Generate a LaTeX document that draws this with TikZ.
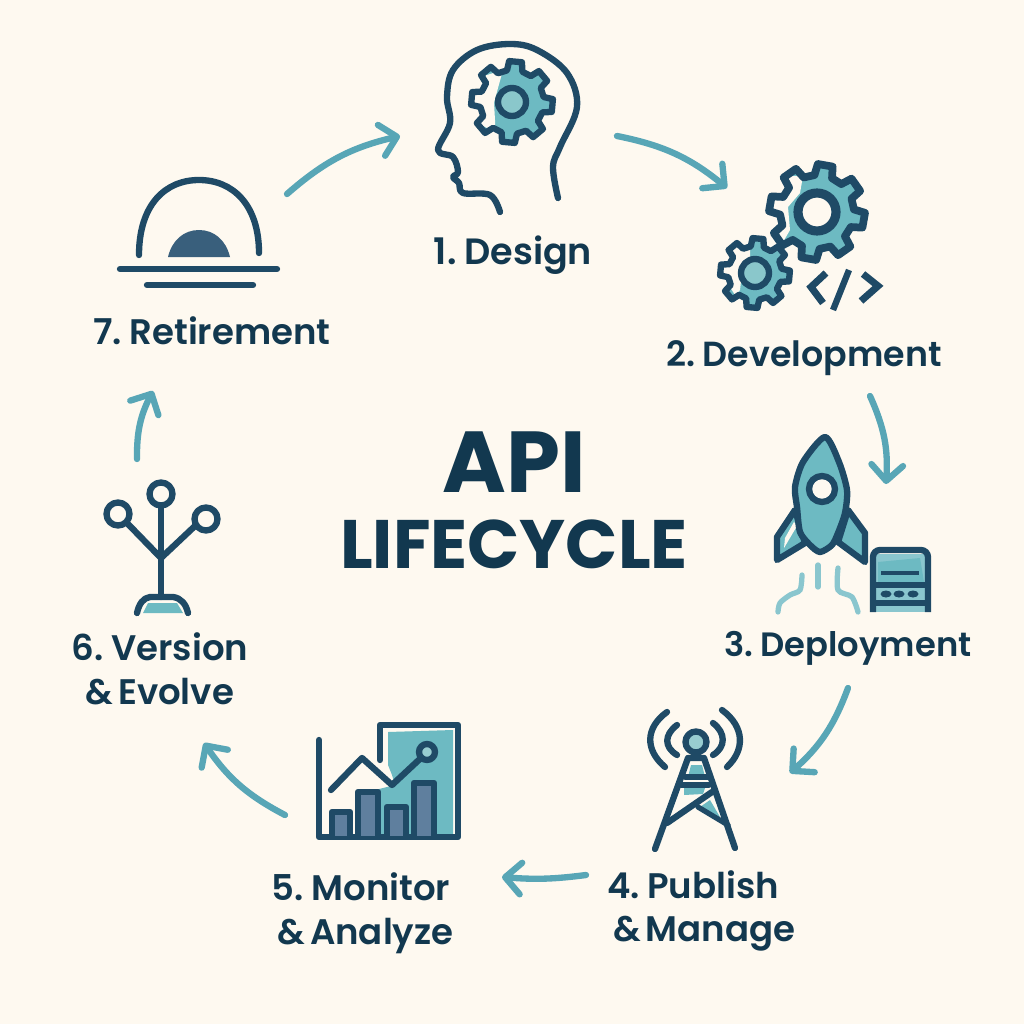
\documentclass[tikz,border=0pt]{standalone}
\usepackage{fontspec}
\setmainfont{Poppins SemiBold}[BoldFont={Poppins Bold}, WordSpace=0.55]
\usetikzlibrary{arrows.meta}
\definecolor{paper}{HTML}{FEF9F0}
\definecolor{ink}{HTML}{1F4A66}
\definecolor{textink}{HTML}{12384F}
\definecolor{teal}{HTML}{6DBAC2}
\definecolor{flame}{HTML}{8AC6CE}
\definecolor{bar}{HTML}{5F7F9E}
\definecolor{flow}{HTML}{58A6B6}
\tikzset{
    iconline/.style={draw=ink, line width=1.8pt, line cap=round, line join=round},
    flowarrow/.style={draw=flow, line width=1.8pt, line cap=round, -{Straight Barb[length=4.5pt,width=9pt,round]}, bend left=#1},
    flowarrow/.default=14,
    steplabel/.style={text=textink, font=\fontsize{10.1}{12.4}\selectfont, align=center, inner sep=0pt}
}
% one gear outline, for use inside a path
\newcommand{\gearpath}[3]{(#3-14:#2) \foreach \a in {0,45,...,315} {-- (#3+\a-14:#2) -- (#3+\a-9:#1) -- (#3+\a+9:#1) -- (#3+\a+14:#2)} -- cycle}
\begin{document}
\begin{tikzpicture}[x=0.01cm, y=-0.01cm]
    \useasboundingbox[fill=paper] (0,0) rectangle (1024,1024);

    % title and labels
    \node[text=textink, font=\fontsize{24.6}{24.6}\selectfont\bfseries, inner sep=0pt] (title) at (514,462) {API};
    \node[text=textink, font=\fontsize{19.5}{19.5}\selectfont\bfseries, inner sep=0pt] (subtitle) at (514,544) {LIFECYCLE};
    \node[steplabel, font=\fontsize{10.4}{12.4}\selectfont] (design) at (513,255) {1. Design};
    \node[steplabel, font=\fontsize{9.9}{12.4}\selectfont] (development) at (804,358) {2. Development};
    \node[steplabel, font=\fontsize{9.6}{12.4}\selectfont] (deployment) at (848,648) {3. Deployment};
    \node[steplabel] (publish) at (693,911) {4. Publish\\\ \ \ \ \ \& Manage};
    \node[steplabel] (monitor) at (361,913) {5. Monitor\\\ \ \& Analyze};
    \node[steplabel] (version) at (160,669) {6. Version\\\& Evolve};
    \node[steplabel] (retirement) at (212,331) {7. Retirement};

    % 1 head with gear
    \draw[iconline] plot[smooth, tension=.6] coordinates {(558,198) (553,167) (560,147) (577,107) (567,73) (537,50) (510,44) (477,50) (453,70) (447,97) (450,123) (438,150) (453,157) (458,172) (453,177) (459,183) (463,193) (490,195) (500,212)};
    \fill[teal, shift={(512,102)}] \gearpath{41}{32}{5};
    \fill[paper] (503,70) -- (498,88) -- (494,103) -- (495,120) -- (495,132) -- (471,120) -- (471,80) -- cycle;
    \draw[iconline, shift={(512,102)}] \gearpath{41}{32}{5};
    \draw[iconline, fill=teal!80!paper] (512,102) circle (14);

    % 2 two gears and code mark
    \fill[teal, shift={(817,212)}] \gearpath{48}{37}{10};
    \fill[paper] (803,176) -- (800,193) -- (788,207) -- (790,230) -- (783,242) -- (768,210) -- (775,176) -- cycle;
    \draw[iconline, line width=2.2pt, shift={(817,212)}] \gearpath{48}{37}{10};
    \draw[iconline, line width=2.6pt, fill=paper] (817,212) circle (19);
    \fill[teal, shift={(755,273)}] \gearpath{35}{27}{5};
    \fill[paper] (750,243) -- (750,257) -- (742,273) -- (740,290) -- (735,295) -- (721,273) -- (730,248) -- cycle;
    \draw[iconline, shift={(755,273)}] \gearpath{35}{27}{5};
    \draw[iconline, fill=teal!80!paper] (755,273) circle (14);
    \draw[iconline, line cap=butt, line join=miter, line width=2pt] (826,273) -- (811,287) -- (823,303);
    \draw[iconline, line cap=butt, line width=1.8pt] (849,270) -- (833,310);
    \draw[iconline, line cap=butt, line join=miter, line width=2pt] (863,274) -- (878,286) -- (861,301);

    % 3 rocket and server box
    \draw[iconline, fill=teal] (795,510) -- (777,537) -- (777,560) -- (805,543) -- cycle;
    \draw[iconline, fill=teal] (848,510) -- (865,533) -- (865,562) -- (838,542) -- cycle;
    \fill[paper] (785,538) -- (794,522) -- (797,526) -- (784,548) -- cycle;
    \draw[iconline, fill=teal] plot[smooth cycle, tension=.45] coordinates {(825,437) (839,462) (847,490) (845,513) (838,533) (832,545) (820,552) (810,545) (800,532) (797,507) (795,487) (803,462)};
    \draw[iconline, fill=paper] (822,489) circle (13);
    \draw[flame, line width=1.5pt, line cap=round] (818,565) -- (818,587);
    \draw[flame, line width=1.5pt, line cap=round] plot[smooth, tension=.5] coordinates {(802,575) (800,590) (790,595) (780,603) (778,612)};
    \draw[flame, line width=1.5pt, line cap=round] plot[smooth, tension=.5] coordinates {(838,568) (838,590) (852,597) (858,612)};
    \fill[flame] (876,554) rectangle (925,612);
    \fill[teal] (878,562) -- (920,558) -- (924,582) -- (878,582) -- cycle;
    \draw[ink, line width=1pt] (881,573) -- (919,573);
    \draw[iconline, line cap=butt, rounded corners=2pt] (873,612) -- (873,550) -- (928,550) -- (928,612);
    \draw[ink, line width=1.5pt] (873,585) -- (928,585);
    \draw[ink, line width=1.5pt] (873,603) -- (928,603);
    \foreach \bx in {886,899,913} {\fill[ink] (\bx,594) ellipse (5.5 and 3.5);}

    % 4 radio tower
    \fill[teal] (691,765) -- (702,765) -- (705,777) -- (688,777) -- cycle;
    \fill[teal] (684,785) -- (706,785) -- (703,794) -- (684,795) -- cycle;
    \fill[teal] (672,818) -- (707,797) -- (697,806) -- cycle;
    \fill[teal] (710,800) -- (720,817) -- (700,807) -- cycle;
    \draw[iconline] (655,849) -- (688,758) -- (704,758) -- (735,848);
    \draw[iconline, line width=1.5pt] (685,777) -- (708,777);
    \draw[iconline, line width=1.5pt] (681,785) -- (709,785);
    \draw[iconline] (667,823) -- (712,792);
    \draw[iconline, line width=1.5pt] (698,807) -- (728,825);
    \draw[iconline, fill=teal!70!paper] (696,742) circle (10.5);
    \draw[iconline] (677,725) .. controls (664,735) and (664,747) .. (677,755);
    \draw[iconline] (667,712) .. controls (645,728) and (645,750) .. (665,767);
    \draw[iconline] (713,723) .. controls (726,733) and (726,747) .. (713,755);
    \draw[iconline] (722,710) .. controls (745,727) and (745,750) .. (727,767);

    % 5 chart
    \fill[teal] (388,732) -- (453,730) -- (453,834) -- (375,834) -- (375,790) -- (395,785) -- (392,775) -- (388,765) -- cycle;
    \draw[iconline] (319,740) -- (319,837) -- (458,837) -- (458,725) -- (380,725) -- (380,760);
    \foreach \bl/\bt/\br in {332/812/350, 358/792/378, 387/807/406, 414/783/434} {
        \draw[iconline, fill=bar] (\bl,836) -- (\bl,\bt) -- (\br,\bt) -- (\br,836);
    }
    \draw[iconline] (331,790) -- (362,758) -- (392,785) -- (422,757);
    \draw[iconline, fill=teal!70!paper] (427,752) circle (8);

    % 6 branches
    \fill[teal] (143,613) -- (148,603) -- (177,603) -- (183,613) -- cycle;
    \draw[iconline] (137,613) .. controls (139,604) and (143,598) .. (150,597) -- (173,597) .. controls (181,598) and (186,604) .. (188,613);
    \draw[iconline] (161,505) -- (161,597);
    \draw[iconline] (127,523) -- (161,558) -- (196,525);
    \draw[iconline, fill=paper] (161,494) circle (11.5);
    \draw[iconline, fill=paper] (118,514) circle (11.5);
    \draw[iconline, fill=paper] (206,519) circle (11.5);

    % 7 setting dome
    \draw[iconline] (139,255) .. controls (139,205) and (165,180) .. (199,180) .. controls (233,180) and (259,205) .. (259,253);
    \fill[ink!60!bar] (168,257) .. controls (172,240) and (184,230) .. (199,230) .. controls (214,230) and (226,240) .. (230,257) -- cycle;
    \draw[iconline] (120,269) -- (277,269);
    \draw[iconline] (147,285) -- (253,285);

    % arrows round the circle
    \coordinate (retireout) at (287,194);
    \coordinate (designin) at (400,136);
    \coordinate (designout) at (617,136);
    \coordinate (devin) at (727,188);
    \coordinate (devout) at (870,396);
    \coordinate (deployin) at (886,484);
    \coordinate (deployout) at (848,688);
    \coordinate (publishin) at (790,773);
    \coordinate (publishout) at (586,875);
    \coordinate (monitorin) at (502,877);
    \coordinate (monitorout) at (285,815);
    \coordinate (versionin) at (204,743);
    \coordinate (versionout) at (137,459);
    \coordinate (retirein) at (153,391);
    \draw[flowarrow] (retireout) to (designin);
    \draw[flowarrow] (designout) to (devin);
    \draw[flowarrow] (devout) to (deployin);
    \draw[flowarrow] (deployout) to (publishin);
    \draw[flowarrow=6] (publishout) to (monitorin);
    \draw[flowarrow] (monitorout) to (versionin);
    \draw[flowarrow] (versionout) to (retirein);
\end{tikzpicture}
\end{document}
